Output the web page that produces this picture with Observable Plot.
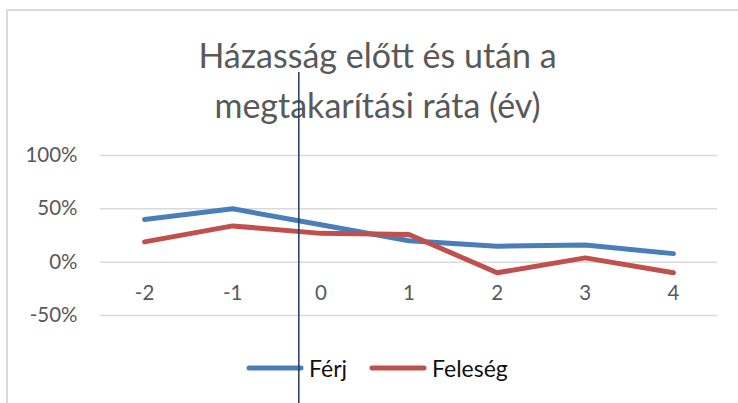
<!DOCTYPE html>
<html>
<head>
<meta charset="utf-8">
<script src="https://cdn.jsdelivr.net/npm/d3@7"></script>
<script src="https://cdn.jsdelivr.net/npm/@observablehq/plot@0.6"></script>
<style>
  html, body { margin: 0; padding: 0; background: #fff; }
  #wrap { position: relative; width: 738px; height: 403px; overflow: hidden; font-family: Lato, "Open Sans", sans-serif; }
  #border { position: absolute; left: 6px; top: 9px; right: -5px; bottom: -5px; border-left: 2px solid #dadada; border-top: 2px solid #dadada; }
  #title { position: absolute; left: 0; width: 755px; top: 30px; text-align: center; color: #595959; font-size: 34px; line-height: 50px; }
  #legend { position: absolute; top: 354px; left: 246px; display: flex; align-items: center; font-size: 23px; color: #111; }
  #legend .item { display: flex; align-items: center; margin-right: 22px; }
  #legend svg { display: block; margin-right: 5px; }
  #chart { position: absolute; left: 0; top: 0; }
</style>
</head>
<body>
<div id="wrap">
  <div id="border"></div>
  <div id="title"></div>
  <div id="legend"></div>
  <div id="chart"></div>
</div>
<script>
const titleLines = ["Házasság előtt és után a", "megtakarítási ráta (év)"];
const years = [-2, -1, 0, 1, 2, 3, 4];
const ferj = [40, 50, 35, 20, 15, 16, 8];
const feleseg = [19, 34, 27, 26, -10, 4, -10];
const yTicks = [-50, 0, 50, 100];
const seriesNames = ["Férj", "Feleség"];
const seriesColors = ["#4a7ebb", "#c0504d"];
const marriageMarker = [-0.25];

const rows = [];
years.forEach((yr, i) => {
  rows.push({year: yr, value: ferj[i], series: seriesNames[0]});
  rows.push({year: yr, value: feleseg[i], series: seriesNames[1]});
});

document.getElementById("title").innerHTML = titleLines.map(t => `<div>${t}</div>`).join("");

const legend = document.getElementById("legend");
seriesNames.forEach((name, i) => {
  const item = document.createElement("div");
  item.className = "item";
  item.innerHTML = `<svg width="58" height="10"><line x1="3" y1="5" x2="55" y2="5" stroke="${seriesColors[i]}" stroke-width="5" stroke-linecap="round"/></svg><span>${name}</span>`;
  legend.appendChild(item);
});

const plot = Plot.plot({
  width: 738,
  height: 403,
  marginTop: 155,
  marginBottom: 88,
  marginLeft: 100,
  marginRight: 21,
  style: { background: "transparent", fontFamily: "Lato, 'Open Sans', sans-serif", overflow: "visible" },
  x: { domain: [-2.5, 4.5], axis: null },
  y: { domain: [-50, 100], axis: null },
  color: { domain: seriesNames, range: seriesColors },
  marks: [
    Plot.gridY(yTicks, { stroke: "#d9d9d9", strokeOpacity: 1, strokeWidth: 1.5 }),
    Plot.axisY(yTicks, { label: null, tickSize: 0, tickPadding: 23, tickFormat: d => d + "%", fontSize: 20.5, fill: "#595959" }),
    Plot.text(years, { x: d => d, y: () => 0, text: d => String(d), dy: 31, fontSize: 20.5, fill: "#595959" }),
    Plot.lineY(rows.filter(r => r.series === seriesNames[0]), { x: "year", y: "value", stroke: "series", strokeWidth: 5, strokeLinecap: "round", strokeLinejoin: "round" }),
    Plot.lineY(rows.filter(r => r.series === seriesNames[1]), { x: "year", y: "value", stroke: "series", strokeWidth: 5, strokeLinecap: "round", strokeLinejoin: "round" }),
    Plot.ruleX(marriageMarker, { stroke: "#1f3a60", strokeWidth: 1.5, insetTop: -83, insetBottom: -90 })
  ]
});
document.getElementById("chart").appendChild(plot);
</script>
</body>
</html>
